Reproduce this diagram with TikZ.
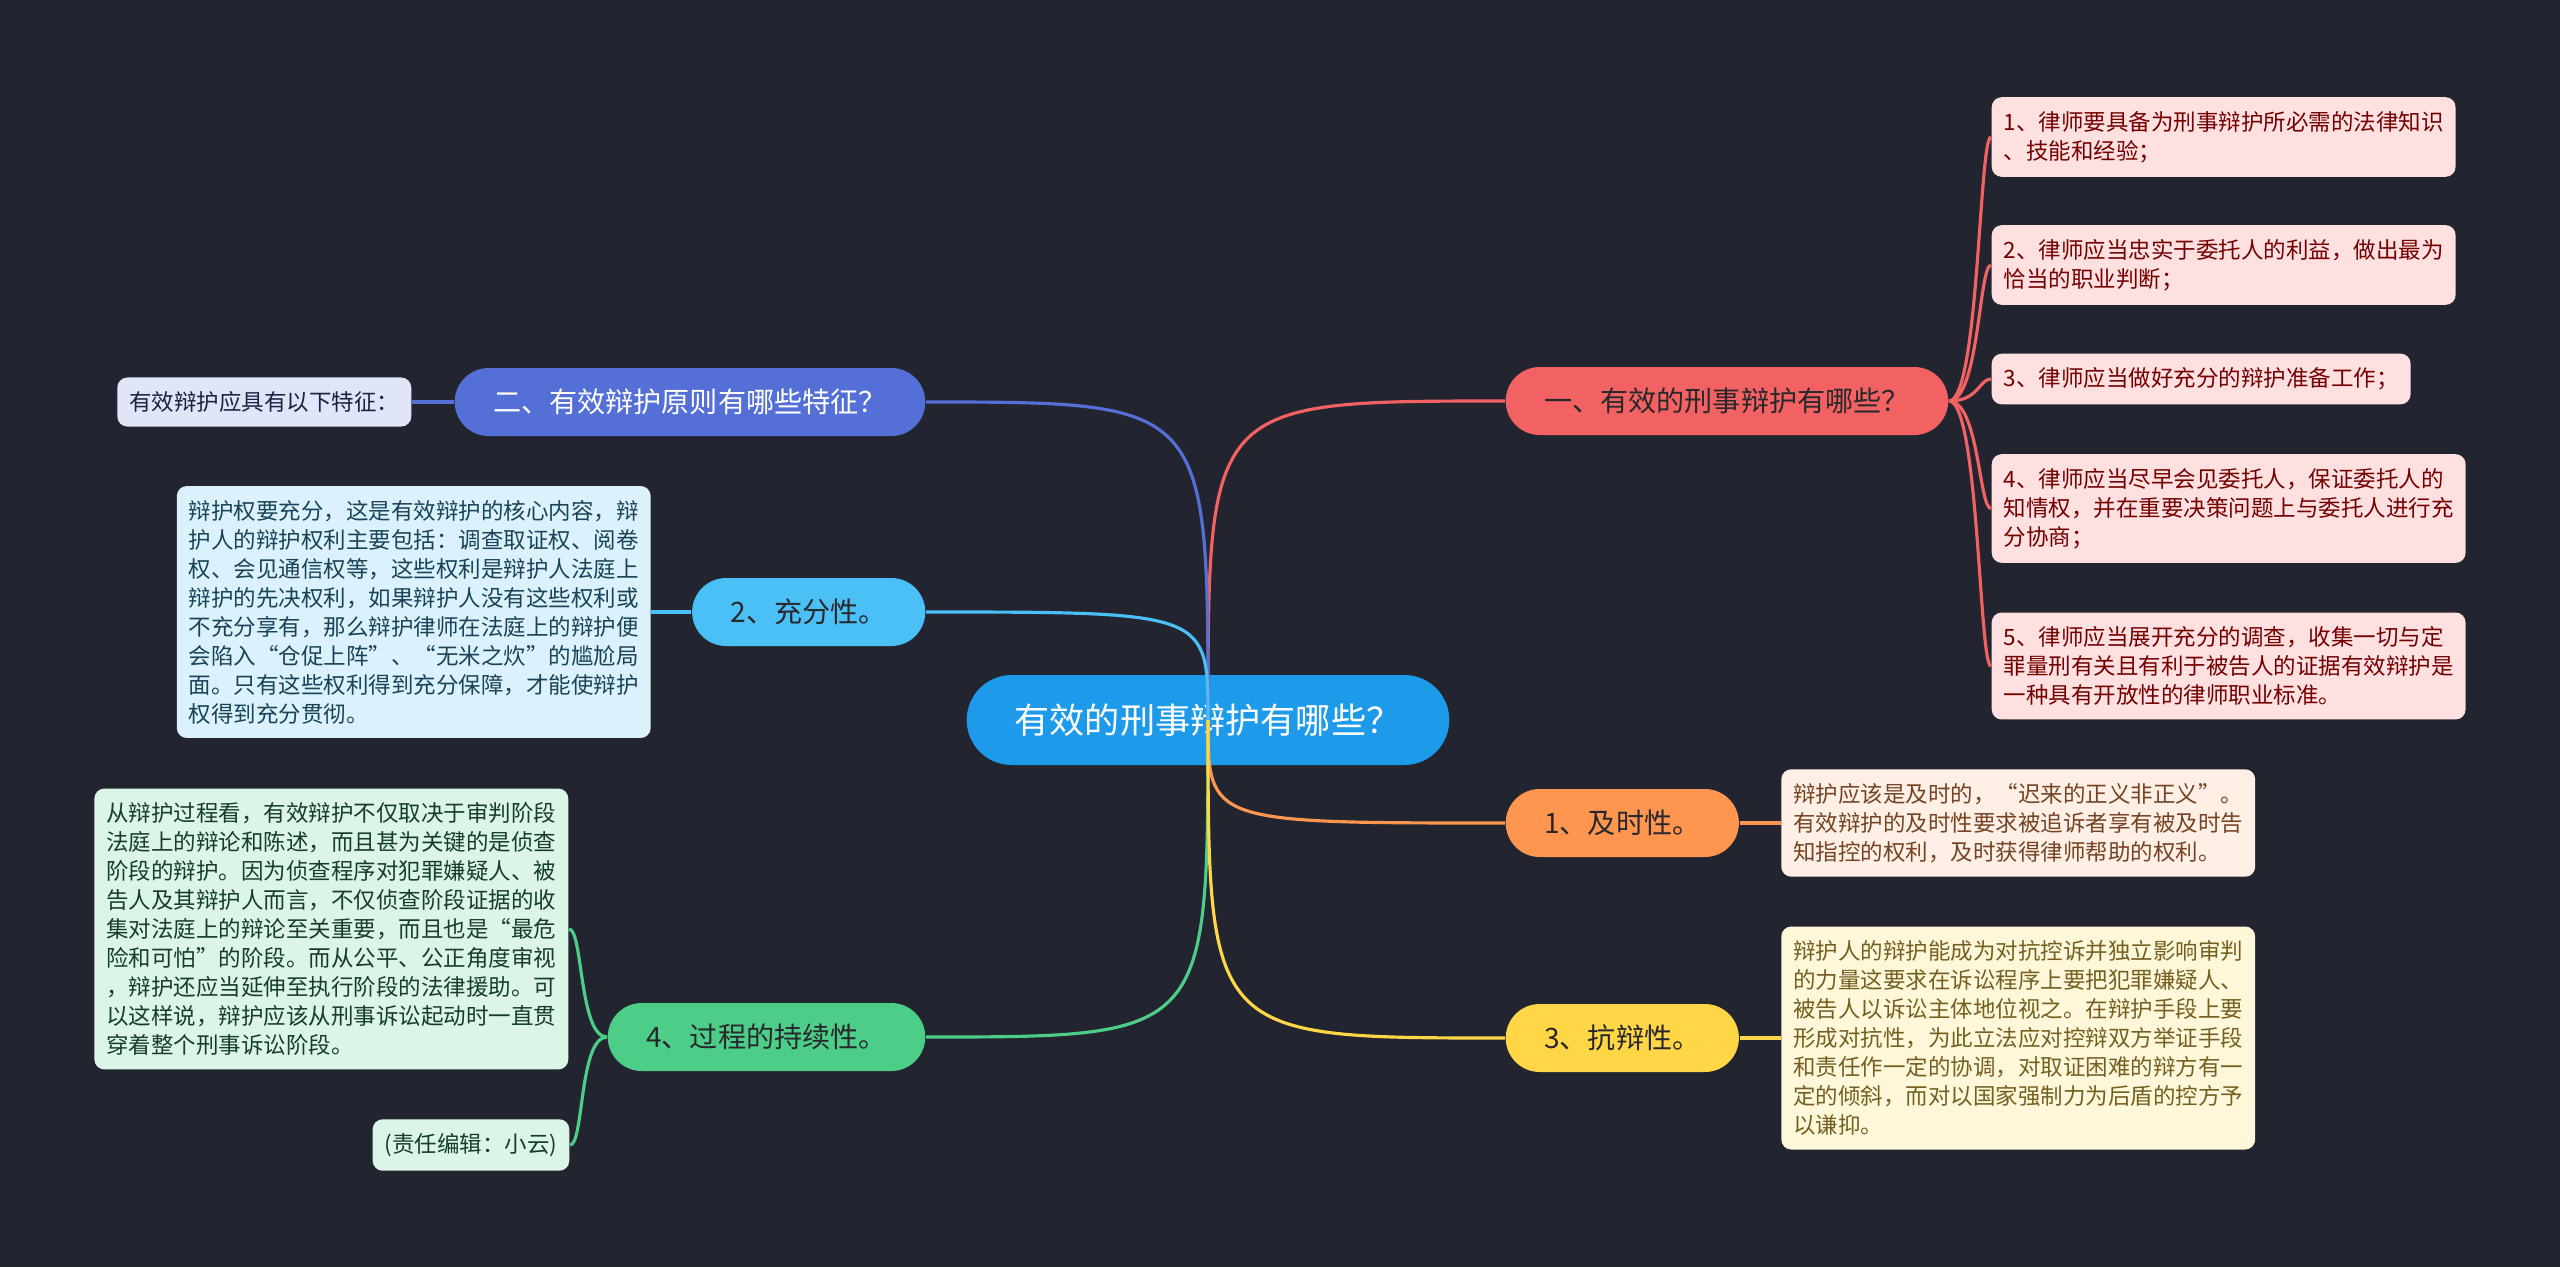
\documentclass[tikz,border=0pt]{standalone}
\usepackage{fontspec}
\setmainfont{Noto Sans CJK SC}
\usetikzlibrary{positioning}
\definecolor{bg}{RGB}{34,37,48}
\definecolor{rootc}{RGB}{30,154,235}
\definecolor{redc}{RGB}{243,98,98}
\definecolor{bluec}{RGB}{84,112,214}
\definecolor{skyc}{RGB}{75,192,246}
\definecolor{greenc}{RGB}{76,205,136}
\definecolor{orangec}{RGB}{255,150,80}
\definecolor{yellowc}{RGB}{255,214,70}
\definecolor{darktxt}{RGB}{40,40,44}

\begin{document}
\begin{tikzpicture}[
          main/.style={rectangle, rounded corners=0.45cm, fill=rootc, text=white,
                       minimum height=0.9cm, inner xsep=0.48cm,
                       font=\fontsize{10pt}{12pt}\selectfont},
          topic/.style={rectangle, rounded corners=0.34cm, text=darktxt,
                        minimum height=0.68cm, inner xsep=0.385cm,
                        font=\fontsize{8pt}{10pt}\selectfont},
          leaf/.style={rectangle, rounded corners=0.1cm, align=left,
                       inner xsep=0.12cm, inner ysep=0.14cm,
                       font=\fontsize{6.4pt}{8.25pt}\selectfont},
          link/.style={line width=0.9pt}
        ]
        \fill[bg] (0,0) rectangle (25.6,-12.67);

        % centre and main topics
        \node[main] (root) at (12.08,-7.20) {有效的刑事辩护有哪些？};
        \node[topic, fill=redc, anchor=west] (n1) at (15.05,-4.01) {一、有效的刑事辩护有哪些？};
        \node[topic, fill=bluec, text=white, anchor=east] (n2) at (9.26,-4.02) {二、有效辩护原则有哪些特征？};
        \node[topic, fill=skyc, anchor=east] (c2) at (9.26,-6.12) {2、充分性。};
        \node[topic, fill=greenc, anchor=east] (c4) at (9.26,-10.37) {4、过程的持续性。};
        \node[topic, fill=orangec, anchor=west] (c1) at (15.05,-8.23) {1、及时性。};
        \node[topic, fill=yellowc, anchor=west] (c3) at (15.05,-10.38) {3、抗辩性。};

        % leaves of n1
        \node[leaf, fill=red!12, text=red!45!black, anchor=west] (a1) at (19.91,-1.37)
          {1、律师要具备为刑事辩护所必需的法律知识\\、技能和经验；};
        \node[leaf, fill=red!12, text=red!45!black, anchor=west] (a2) at (19.91,-2.65)
          {2、律师应当忠实于委托人的利益，做出最为\\恰当的职业判断；};
        \node[leaf, fill=red!12, text=red!45!black, anchor=west] (a3) at (19.91,-3.79)
          {3、律师应当做好充分的辩护准备工作；};
        \node[leaf, fill=red!12, text=red!45!black, anchor=west] (a4) at (19.91,-5.085)
          {4、律师应当尽早会见委托人，保证委托人的\\知情权，并在重要决策问题上与委托人进行充\\分协商；};
        \node[leaf, fill=red!12, text=red!45!black, anchor=west] (a5) at (19.91,-6.66)
          {5、律师应当展开充分的调查，收集一切与定\\罪量刑有关且有利于被告人的证据有效辩护是\\一种具有开放性的律师职业标准。};

        % other leaves
        \node[leaf, fill=bluec!18, text=bluec!30!black, left=0.42cm of n2] (b1)
          {有效辩护应具有以下特征：};
        \node[leaf, fill=skyc!20, text=skyc!35!black, left=0.40cm of c2] (s1)
          {辩护权要充分，这是有效辩护的核心内容，辩\\护人的辩护权利主要包括：调查取证权、阅卷\\权、会见通信权等，这些权利是辩护人法庭上\\辩护的先决权利，如果辩护人没有这些权利或\\不充分享有，那么辩护律师在法庭上的辩护便\\会陷入“仓促上阵”、“无米之炊”的尴尬局\\面。只有这些权利得到充分保障，才能使辩护\\权得到充分贯彻。};
        \node[leaf, fill=greenc!20, text=greenc!30!black, anchor=east] (g1) at (5.69,-9.29)
          {从辩护过程看，有效辩护不仅取决于审判阶段\\法庭上的辩论和陈述，而且甚为关键的是侦查\\阶段的辩护。因为侦查程序对犯罪嫌疑人、被\\告人及其辩护人而言，不仅侦查阶段证据的收\\集对法庭上的辩论至关重要，而且也是“最危\\险和可怕”的阶段。而从公平、公正角度审视\\，辩护还应当延伸至执行阶段的法律援助。可\\以这样说，辩护应该从刑事诉讼起动时一直贯\\穿着整个刑事诉讼阶段。};
        \node[leaf, fill=greenc!20, text=greenc!30!black, anchor=east] (g2) at (5.70,-11.45)
          {(责任编辑：小云)};
        \node[leaf, fill=orangec!15, text=orangec!45!black, right=0.41cm of c1] (o1)
          {辩护应该是及时的，“迟来的正义非正义”。\\有效辩护的及时性要求被追诉者享有被及时告\\知指控的权利，及时获得律师帮助的权利。};
        \node[leaf, fill=yellowc!20, text=yellowc!45!black, right=0.41cm of c3] (y1)
          {辩护人的辩护能成为对抗控诉并独立影响审判\\的力量这要求在诉讼程序上要把犯罪嫌疑人、\\被告人以诉讼主体地位视之。在辩护手段上要\\形成对抗性，为此立法应对控辩双方举证手段\\和责任作一定的协调，对取证困难的辩方有一\\定的倾斜，而对以国家强制力为后盾的控方予\\以谦抑。};

        % branches from the centre
        \draw[link, redc] (root.center) .. controls (root.center |- n1.west) .. (n1.west);
        \draw[link, bluec] (root.center) .. controls (root.center |- n2.east) .. (n2.east);
        \draw[link, skyc] (root.center) .. controls (root.center |- c2.east) .. (c2.east);
        \draw[link, greenc] (root.center) .. controls (root.center |- c4.east) .. (c4.east);
        \draw[link, orangec] (root.center) .. controls (root.center |- c1.west) .. (c1.west);
        \draw[link, yellowc] (root.center) .. controls (root.center |- c3.west) .. (c3.west);

        % branches to leaves
        \foreach \leafname in {a1,a2,a3,a4,a5}
          \draw[link, redc] (n1.east) .. controls +(0.3,0) and +(-0.12,0) .. (\leafname.west);
        \draw[link, bluec] (b1) -- (n2);
        \draw[link, skyc] (s1) -- (c2);
        \draw[link, orangec] (c1) -- (o1);
        \draw[link, yellowc] (c3) -- (y1);
        \draw[link, greenc] (c4.west) .. controls +(-0.28,0) and +(0.14,0) .. (g1.east);
        \draw[link, greenc] (c4.west) .. controls +(-0.28,0) and +(0.14,0) .. (g2.east);
      \end{tikzpicture}
\end{document}
